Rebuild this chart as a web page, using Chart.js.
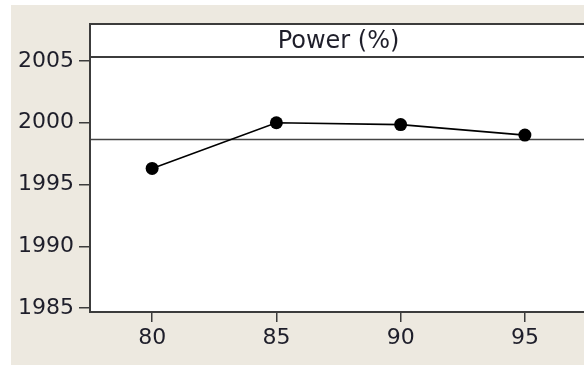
<!DOCTYPE html>
<html>
<head>
<meta charset="utf-8">
<script src="https://cdn.jsdelivr.net/npm/chart.js@4.4.0/dist/chart.umd.min.js"></script>
<style>
    html, body { margin: 0; padding: 0; overflow: hidden; background: #ffffff; }
    #panel { position: absolute; left: 11px; top: 5px; width: 576px; height: 360px; background: #ede9e0; }
</style>
</head>
<body>
<div id="panel"><canvas id="mainEffects" width="576" height="360"></canvas></div>
<script>
// main effects plot data
const powerLevels = [80, 85, 90, 95];
const meanValues = [1996.3, 2000.0, 1999.85, 1999.0];
const xTickValues = [80, 85, 90, 95];
const yTickValues = [1985, 1990, 1995, 2000, 2005];
const overallMean = [1998.7];
const panelTitle = 'Power (%)';

const frameColor = '#3c3c3c';
const textColor = '#1e1e2a';

Chart.defaults.font.family = "'DejaVu Sans', sans-serif";
Chart.defaults.font.size = 22;
Chart.defaults.color = textColor;

const framePlugin = {
    id: 'framePlugin',
    beforeDraw(chart) {
        const { ctx, chartArea: a } = chart;
        ctx.save();
        ctx.fillStyle = '#ffffff';
        ctx.fillRect(a.left, a.top - 33, a.right - a.left, a.bottom - a.top + 33);
        ctx.restore();
    },
    beforeDatasetsDraw(chart) {
        const { ctx, chartArea: a, scales: { y } } = chart;
        const yPix = Math.round(y.getPixelForValue(overallMean[0])) + 0.5;
        ctx.save();
        ctx.strokeStyle = '#444444';
        ctx.lineWidth = 1.3;
        ctx.beginPath();
        ctx.moveTo(a.left, yPix);
        ctx.lineTo(a.right, yPix);
        ctx.stroke();
        ctx.restore();
    },
    afterDraw(chart) {
        const { ctx, chartArea: a } = chart;
        const stripTop = a.top - 33;
        ctx.save();
        ctx.strokeStyle = frameColor;
        ctx.lineWidth = 2;
        ctx.beginPath();
        // top edge of panel
        ctx.moveTo(a.left - 1, stripTop);
        ctx.lineTo(a.right, stripTop);
        // bottom of title strip
        ctx.moveTo(a.left, a.top);
        ctx.lineTo(a.right, a.top);
        // left edge
        ctx.moveTo(a.left, stripTop);
        ctx.lineTo(a.left, a.bottom + 1);
        // bottom edge
        ctx.moveTo(a.left - 1, a.bottom);
        ctx.lineTo(a.right, a.bottom);
        ctx.stroke();

        ctx.fillStyle = textColor;
        ctx.font = "24px 'DejaVu Sans', sans-serif";
        ctx.textAlign = 'center';
        ctx.textBaseline = 'middle';
        ctx.fillText(panelTitle, (a.left + a.right) / 2, stripTop + 18);
        ctx.restore();
    }
};

const ctx = document.getElementById('mainEffects').getContext('2d');
const chart = new Chart(ctx, {
    type: 'line',
    data: {
        datasets: [{
            data: powerLevels.map((p, i) => ({ x: p, y: meanValues[i] })),
            borderColor: '#000000',
            borderWidth: 1.6,
            pointRadius: 6.5,
            pointBackgroundColor: '#000000',
            pointBorderColor: '#000000',
            pointBorderWidth: 0,
            tension: 0
        }]
    },
    options: {
        responsive: false,
        animation: false,
        layout: { autoPadding: false, padding: { top: 52, right: 0, left: 0, bottom: 0 } },
        plugins: {
            legend: { display: false },
            tooltip: { enabled: false }
        },
        scales: {
            x: {
                type: 'linear',
                min: 77.5,
                max: 97.5,
                afterBuildTicks: axis => { axis.ticks = xTickValues.map(v => ({ value: v })); },
                afterFit: axis => {
                    axis.height = 53;
                    axis.paddingLeft = 0;
                    axis.paddingRight = 0;
                },
                border: { display: false },
                grid: {
                    drawOnChartArea: false,
                    drawTicks: true,
                    tickLength: 10,
                    color: frameColor,
                    lineWidth: 1.5
                },
                ticks: { padding: 3, maxRotation: 0, color: textColor, callback: v => String(v) }
            },
            y: {
                min: 1984.68,
                max: 2005.32,
                afterBuildTicks: axis => { axis.ticks = yTickValues.map(v => ({ value: v })); },
                afterFit: axis => { axis.width = 79; },
                border: { display: false },
                grid: {
                    drawOnChartArea: false,
                    drawTicks: true,
                    tickLength: 11,
                    color: frameColor,
                    lineWidth: 1.5
                },
                ticks: { padding: 5, color: textColor, callback: v => String(v) }
            }
        }
    },
    plugins: [framePlugin]
});
</script>
</body>
</html>
